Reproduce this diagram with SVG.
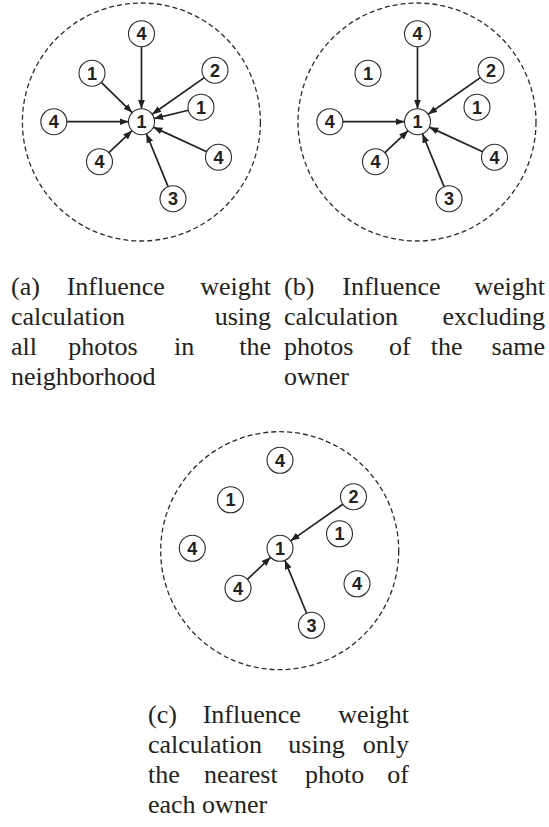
<svg xmlns="http://www.w3.org/2000/svg" width="549" height="827" viewBox="0 0 549 827">
<defs>
<style>
.bg{fill:#fff}
.hood{fill:none;stroke:#2b2b2b;stroke-width:1.3;stroke-dasharray:5 3}
.node circle{fill:#fff;stroke:#2b2b2b;stroke-width:1.1}
.node text{font-family:"Liberation Sans",Arial,sans-serif;font-weight:bold;font-size:18px;fill:#222;text-anchor:middle}
.edge{stroke:#222;stroke-width:1.7;fill:none;marker-end:url(#ah)}
.cap{font-family:"Liberation Serif","Times New Roman",serif;font-size:26px;fill:#222}
.e{text-anchor:end}
</style>
<marker id="ah" markerUnits="userSpaceOnUse" markerWidth="10" markerHeight="8" refX="9" refY="3.5" orient="auto">
<path d="M0,0 L9,3.5 L0,7 z" fill="#222"/>
</marker>
</defs>
<rect class="bg" x="0" y="0" width="549" height="827"/>

<!-- Panel (a) -->
<g id="panel-a">
<circle class="hood" cx="141.4" cy="122" r="119"/>
<g transform="translate(141.5,121.7)">
<g id="a-edges">
<line class="edge" x1="0" y1="-75" x2="0" y2="-13"/>
<line class="edge" x1="-40.2" y1="-39.4" x2="-9.29" y2="-9.1"/>
<line class="edge" x1="62.85" y1="-44.04" x2="10.65" y2="-7.46"/>
<line class="edge" x1="46.87" y1="-11.42" x2="12.63" y2="-3.08"/>
<line class="edge" x1="-74.7" y1="0" x2="-13" y2="0"/>
<line class="edge" x1="-32.59" y1="31.03" x2="-9.41" y2="8.97"/>
<line class="edge" x1="65.19" y1="30.06" x2="11.81" y2="5.44"/>
<line class="edge" x1="26.58" y1="64.97" x2="4.92" y2="12.03"/>
</g>
<g id="a-center" class="node"><circle cx="0" cy="0" r="13"/><text x="0" y="6.5">1</text></g>
<g id="a-top4" class="node"><circle cx="0" cy="-88" r="13"/><text x="0" y="-81.5">4</text></g>
<g id="a-ul1" class="node"><circle cx="-49.5" cy="-48.5" r="13"/><text x="-49.5" y="-42">1</text></g>
<g id="a-2" class="node"><circle cx="73.5" cy="-51.5" r="13"/><text x="73.5" y="-45">2</text></g>
<g id="a-r1" class="node"><circle cx="59.5" cy="-14.5" r="13"/><text x="59.5" y="-8">1</text></g>
<g id="a-l4" class="node"><circle cx="-87.7" cy="0" r="13"/><text x="-87.7" y="6.5">4</text></g>
<g id="a-ll4" class="node"><circle cx="-42" cy="40" r="13"/><text x="-42" y="46.5">4</text></g>
<g id="a-r4" class="node"><circle cx="77" cy="35.5" r="13"/><text x="77" y="42">4</text></g>
<g id="a-3" class="node"><circle cx="31.5" cy="77" r="13"/><text x="31.5" y="83.5">3</text></g>
</g>
</g>

<!-- Panel (b) -->
<g id="panel-b">
<circle class="hood" cx="417" cy="122" r="119"/>
<g transform="translate(417.5,121.7)">
<g id="b-edges">
<line class="edge" x1="0" y1="-75" x2="0" y2="-13"/>
<line class="edge" x1="62.85" y1="-44.04" x2="10.65" y2="-7.46"/>
<line class="edge" x1="-74.7" y1="0" x2="-13" y2="0"/>
<line class="edge" x1="-32.59" y1="31.03" x2="-9.41" y2="8.97"/>
<line class="edge" x1="65.19" y1="30.06" x2="11.81" y2="5.44"/>
<line class="edge" x1="26.58" y1="64.97" x2="4.92" y2="12.03"/>
</g>
<g id="b-center" class="node"><circle cx="0" cy="0" r="13"/><text x="0" y="6.5">1</text></g>
<g id="b-top4" class="node"><circle cx="0" cy="-88" r="13"/><text x="0" y="-81.5">4</text></g>
<g id="b-ul1" class="node"><circle cx="-49.5" cy="-48.5" r="13"/><text x="-49.5" y="-42">1</text></g>
<g id="b-2" class="node"><circle cx="73.5" cy="-51.5" r="13"/><text x="73.5" y="-45">2</text></g>
<g id="b-r1" class="node"><circle cx="59.5" cy="-14.5" r="13"/><text x="59.5" y="-8">1</text></g>
<g id="b-l4" class="node"><circle cx="-87.7" cy="0" r="13"/><text x="-87.7" y="6.5">4</text></g>
<g id="b-ll4" class="node"><circle cx="-42" cy="40" r="13"/><text x="-42" y="46.5">4</text></g>
<g id="b-r4" class="node"><circle cx="77" cy="35.5" r="13"/><text x="77" y="42">4</text></g>
<g id="b-3" class="node"><circle cx="31.5" cy="77" r="13"/><text x="31.5" y="83.5">3</text></g>
</g>
</g>

<!-- Panel (c) -->
<g id="panel-c">
<circle class="hood" cx="279.7" cy="550.7" r="119"/>
<g transform="translate(280,548.3)">
<g id="c-edges">
<line class="edge" x1="62.85" y1="-44.04" x2="10.65" y2="-7.46"/>
<line class="edge" x1="-32.59" y1="31.03" x2="-9.41" y2="8.97"/>
<line class="edge" x1="26.58" y1="64.97" x2="4.92" y2="12.03"/>
</g>
<g id="c-center" class="node"><circle cx="0" cy="0" r="13"/><text x="0" y="6.5">1</text></g>
<g id="c-top4" class="node"><circle cx="0" cy="-88" r="13"/><text x="0" y="-81.5">4</text></g>
<g id="c-ul1" class="node"><circle cx="-49.5" cy="-48.5" r="13"/><text x="-49.5" y="-42">1</text></g>
<g id="c-2" class="node"><circle cx="73.5" cy="-51.5" r="13"/><text x="73.5" y="-45">2</text></g>
<g id="c-r1" class="node"><circle cx="59.5" cy="-14.5" r="13"/><text x="59.5" y="-8">1</text></g>
<g id="c-l4" class="node"><circle cx="-87.7" cy="0" r="13"/><text x="-87.7" y="6.5">4</text></g>
<g id="c-ll4" class="node"><circle cx="-42" cy="40" r="13"/><text x="-42" y="46.5">4</text></g>
<g id="c-r4" class="node"><circle cx="77" cy="35.5" r="13"/><text x="77" y="42">4</text></g>
<g id="c-3" class="node"><circle cx="31.5" cy="77" r="13"/><text x="31.5" y="83.5">3</text></g>
</g>
</g>

<!-- Captions -->
<g id="caption-a" class="cap">
<text x="11" y="295">(a)</text>
<text x="66.7" y="295">Influence</text>
<text class="e" x="271" y="295">weight</text>
<text x="11" y="325">calculation</text>
<text class="e" x="271" y="325">using</text>
<text x="11" y="355">all</text>
<text x="68.3" y="355">photos</text>
<text x="174" y="355">in</text>
<text class="e" x="271" y="355">the</text>
<text x="11" y="385">neighborhood</text>
</g>
<g id="caption-b" class="cap">
<text x="284" y="295">(b)</text>
<text x="342.3" y="295">Influence</text>
<text class="e" x="545" y="295">weight</text>
<text x="284" y="325">calculation</text>
<text class="e" x="545" y="325">excluding</text>
<text x="284" y="355">photos</text>
<text x="389" y="355">of</text>
<text x="430.7" y="355">the</text>
<text class="e" x="545" y="355">same</text>
<text x="284" y="385">owner</text>
</g>
<g id="caption-c" class="cap">
<text x="148" y="723">(c)</text>
<text x="202.7" y="723">Influence</text>
<text class="e" x="409" y="723">weight</text>
<text x="148" y="753">calculation</text>
<text x="288.3" y="753">using</text>
<text class="e" x="409" y="753">only</text>
<text x="148" y="783">the</text>
<text x="204" y="783">nearest</text>
<text x="305" y="783">photo</text>
<text class="e" x="409" y="783">of</text>
<text x="148" y="813">each owner</text>
</g>
</svg>
